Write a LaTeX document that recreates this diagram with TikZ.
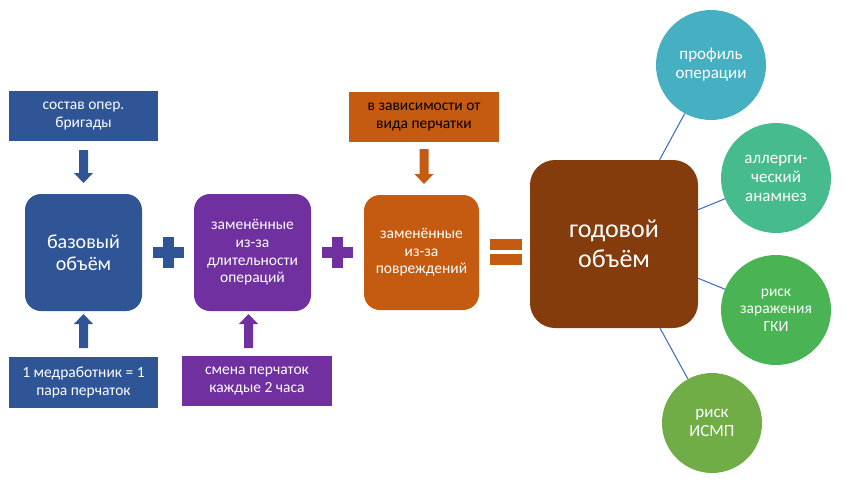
\documentclass[tikz,border=0pt]{standalone}
\usepackage{fontspec}
\setmainfont{Carlito}
\definecolor{cblue}{HTML}{2F5597}
\definecolor{cpurple}{HTML}{7030A0}
\definecolor{corange}{HTML}{C55A11}
\definecolor{cbrown}{HTML}{843C0C}
\definecolor{cteal}{HTML}{47AFC2}
\definecolor{caqua}{HTML}{46BC8E}
\definecolor{cgreen}{HTML}{4AB455}
\definecolor{clime}{HTML}{70AD47}
\definecolor{cline}{HTML}{4472C4}
\newcommand{\blockdown}[4]{\fill[#1] (#2-4.5,#3) -- (#2+4.5,#3) -- (#2+4.5,#4-10) -- (#2+9.5,#4-10) -- (#2,#4) -- (#2-9.5,#4-10) -- (#2-4.5,#4-10) -- cycle;}
\newcommand{\blockup}[4]{\fill[#1] (#2-4.5,#4) -- (#2+4.5,#4) -- (#2+4.5,#3+10) -- (#2+9.5,#3+10) -- (#2,#3) -- (#2-9.5,#3+10) -- (#2-4.5,#3+10) -- cycle;}
\newcommand{\plussign}[3]{\fill[#1] (#2-15.5,#3-5.5) rectangle (#2+15.5,#3+5.5); \fill[#1] (#2-5.5,#3-15.5) rectangle (#2+5.5,#3+15.5);}
\begin{document}
\begin{tikzpicture}[x=1pt,y=-1pt,
  lbl/.style={text=white, align=center, inner sep=0pt, font=\fontsize{15.5}{18}\selectfont},
  mainbox/.style={rounded corners=16pt, text=white, align=center, inner sep=0pt, font=\fontsize{15.5}{17.6}\selectfont},
  bubble/.style={circle, text=white, align=center, inner sep=0pt, font=\fontsize{17}{19}\selectfont},
  link/.style={draw=cline, line width=1.1pt}]
\useasboundingbox (0,0) rectangle (851,487);
% top labels
\node[lbl, fill=cblue, minimum width=149, minimum height=50] (sostav) at (83.5,116) {состав опер.\\бригады};
\node[lbl, fill=corange, text=black, minimum width=150, minimum height=50] (zavis) at (424,117) {в зависимости от\\вида перчатки};
% bottom labels
\node[lbl, fill=cblue, minimum width=149, minimum height=51] (medrab) at (83.5,382.5) {1 медработник = 1\\пара перчаток};
\node[lbl, fill=cpurple, minimum width=150, minimum height=50] (smena) at (257,381) {смена перчаток\\каждые 2 часа};
% main boxes
\node[mainbox, fill=cblue, minimum width=117, minimum height=117, font=\fontsize{20}{22}\selectfont] (base) at (83.5,252.5) {базовый\\объём};
\node[mainbox, fill=cpurple, minimum width=117, minimum height=117] (dur) at (252.5,252.5) {заменённые\\из-за\\длительности\\операций};
\node[mainbox, fill=corange, minimum width=115, minimum height=115] (dmg) at (421.5,252.5) {заменённые\\из-за\\повреждений};
\node[mainbox, rounded corners=25pt, fill=cbrown, minimum width=168, minimum height=168, font=\fontsize{26}{30}\selectfont] (year) at (614,244) {годовой\\объём};
% block arrows
\blockdown{cblue}{83.5}{150}{183}
\blockup{cblue}{83.5}{314}{348}
\blockup{cpurple}{248.5}{314}{348}
\blockdown{corange}{424}{149}{184}
% operators
\plussign{cblue}{168}{252}
\plussign{cpurple}{337}{252}
\fill[corange] (490,239) rectangle (522,250);
\fill[corange] (490,254) rectangle (522,265);
% bubbles
\node[bubble, fill=cteal, minimum size=110] (c1) at (711,65) {профиль\\операции};
\node[bubble, fill=caqua, minimum size=110] (c2) at (776,178) {аллерги-\\ческий\\анамнез};
\node[bubble, fill=cgreen, minimum size=110, font=\fontsize{15.5}{17.5}\selectfont] (c3) at (776,310) {риск\\заражения\\ГКИ};
\node[bubble, fill=clime, minimum size=100, font=\fontsize{17}{18.3}\selectfont] (c4) at (712,423) {риск\\ИСМП};
\draw[link] (year) -- (c1);
\draw[link] (year) -- (c2);
\draw[link] (year) -- (c3);
\draw[link] (year) -- (c4);
\end{tikzpicture}
\end{document}
